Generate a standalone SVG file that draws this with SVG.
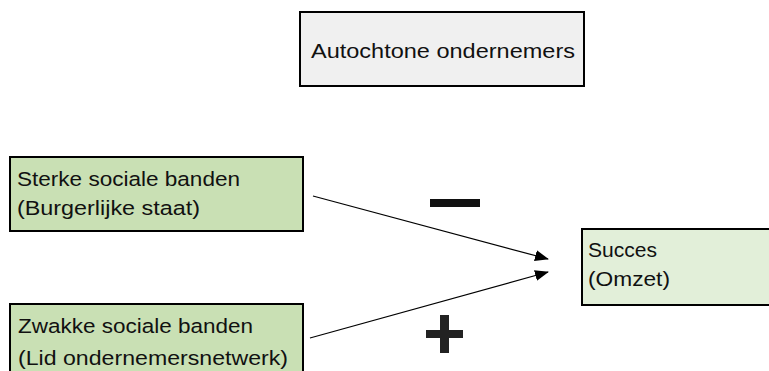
<svg xmlns="http://www.w3.org/2000/svg" width="769" height="371" viewBox="0 0 769 371">
<style>
.box{stroke:#000;stroke-width:2}
.t{font-family:"Liberation Sans","Open Sans",sans-serif;font-size:20.5px;fill:#111}
.c{stroke:#000;stroke-width:1.2;fill:none}
</style>
<defs>
<marker id="ah" markerWidth="14" markerHeight="11" refX="13" refY="5.5" orient="auto" markerUnits="userSpaceOnUse" viewBox="0 0 14 11">
<path d="M0,0 L14,5.5 L0,11 Z" fill="#000"/>
</marker>
</defs>
<rect width="769" height="371" fill="#fff"/>
<g id="autochtone">
<rect class="box" x="300" y="12" width="284" height="74" fill="#f0f0f0"/>
<text class="t" x="311" y="58" textLength="264" lengthAdjust="spacingAndGlyphs">Autochtone ondernemers</text>
</g>
<g id="sterke">
<rect class="box" x="10" y="157" width="293" height="74" fill="#c9e0b4"/>
<text class="t" x="17" y="186" textLength="223" lengthAdjust="spacingAndGlyphs">Sterke sociale banden</text>
<text class="t" x="17" y="215" textLength="183" lengthAdjust="spacingAndGlyphs">(Burgerlijke staat)</text>
</g>
<g id="zwakke">
<rect class="box" x="10" y="304" width="293" height="80" fill="#c9e0b4"/>
<text class="t" x="18" y="333" textLength="235" lengthAdjust="spacingAndGlyphs">Zwakke sociale banden</text>
<text class="t" x="18" y="365" textLength="270" lengthAdjust="spacingAndGlyphs">(Lid ondernemersnetwerk)</text>
</g>
<g id="succes">
<rect class="box" x="582" y="229" width="200" height="76" fill="#e2efd9"/>
<text class="t" x="588" y="257" textLength="69" lengthAdjust="spacingAndGlyphs">Succes</text>
<text class="t" x="588" y="286" textLength="82" lengthAdjust="spacingAndGlyphs">(Omzet)</text>
</g>
<g id="connectors">
<line class="c" x1="313" y1="196" x2="548" y2="259" marker-end="url(#ah)"/>
<line class="c" x1="310" y1="338" x2="548" y2="272" marker-end="url(#ah)"/>
</g>
<g id="signs">
<rect x="430" y="199" width="50" height="8" fill="#111"/>
<rect x="426" y="330" width="37" height="8" fill="#222"/>
<rect x="440" y="315" width="9" height="38" fill="#222"/>
</g>
</svg>
